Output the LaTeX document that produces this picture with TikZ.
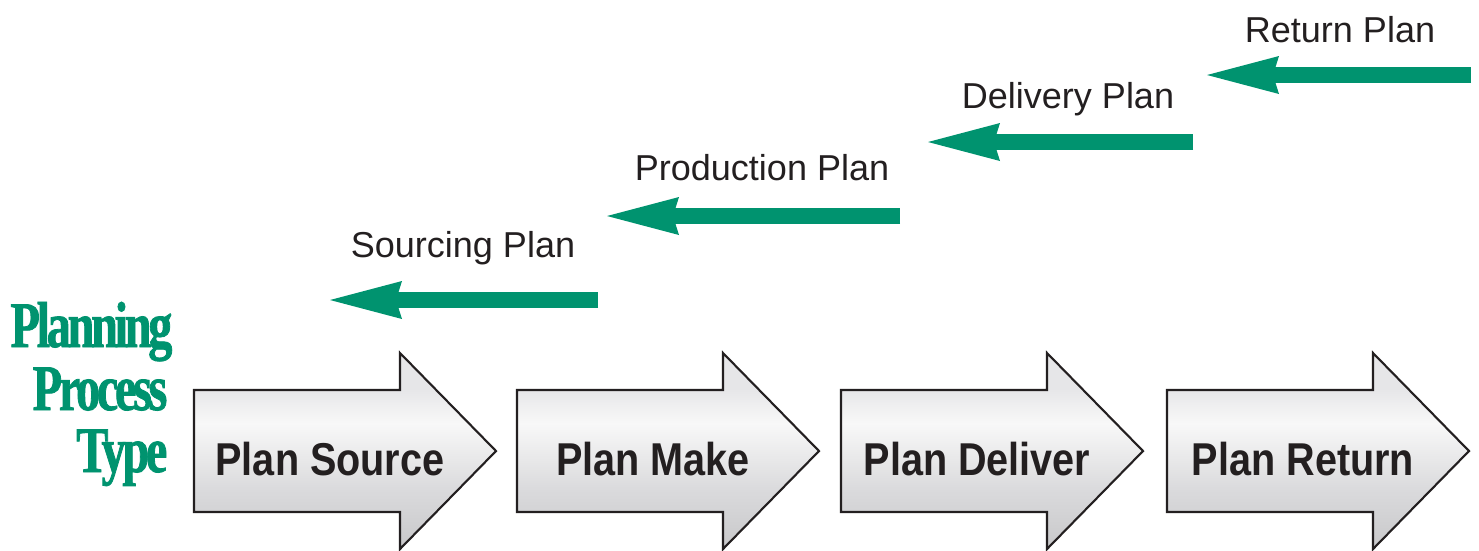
\documentclass[tikz,border=0pt]{standalone}
\usepackage{fontspec}
\setmainfont{Liberation Sans}
\newfontfamily\procfont[FakeStretch=0.86]{Liberation Sans}
\newfontfamily\typefont[FakeStretch=0.74,FakeBold=1.2,LetterSpace=-5]{Liberation Serif}
\usepackage{xcolor}
\usepackage{tikz}
\usetikzlibrary{arrows.meta,positioning}
\definecolor{cPlan}{RGB}{0,147,111}
\definecolor{cInk}{RGB}{35,31,32}
\definecolor{cShD}{RGB}{200,200,202}
\definecolor{cShM}{RGB}{218,218,220}
\definecolor{cShL}{RGB}{248,248,248}
\definecolor{cShT}{RGB}{230,230,232}
\pgfdeclareverticalshading{procshade}{100bp}{color(0bp)=(cShD); color(25bp)=(cShD); color(40bp)=(cShM); color(57bp)=(cShL); color(66bp)=(cShT); color(75bp)=(cShT); color(100bp)=(cShT)}
\tikzset{
  procarrow/.style={draw=cInk,line width=0.6pt,line join=miter,shading=procshade},
  proclabel/.style={inner sep=0pt,anchor=base,text=cInk,font=\procfont\bfseries\fontsize{13.1}{15}\selectfont},
  planlabel/.style={inner sep=0pt,anchor=base,text=cInk,font=\fontsize{10.25}{12}\selectfont},
  planarrow/.style={draw=cPlan,line width=1.6mm,
    -{Stealth[length=7.2mm,width=3.8mm,inset=0.6mm,line width=0pt]}},
  typelabel/.style={inner sep=0pt,anchor=base east,text=cPlan,font=\typefont\bfseries\fontsize{18.5}{18}\selectfont}
}
\begin{document}
\begin{tikzpicture}
  \useasboundingbox (0,0) rectangle (14.79,5.50);
  % process type
  \node[typelabel] (typA) at (1.73,2.03) {Planning};
  \node[typelabel] (typB) at (1.68,1.40) {Process};
  \node[typelabel] (typC) at (1.68,0.78) {Type};
  % the four process arrows
  \foreach \x/\t [count=\i] in {1.94/Plan Source,5.17/Plan Make,8.41/Plan Deliver,11.67/Plan Return}{
    \path[procarrow] (\x,0.38) -- (\x,1.60) -- (\x+2.06,1.60) -- (\x+2.06,1.97)
      -- (\x+3.02,0.99) -- (\x+2.06,0.01) -- (\x+2.06,0.38) -- cycle;
    \node[proclabel] (proc\i) at (\x+1.36,0.75) {\t};
  }
  % plans, right to left
  \coordinate (srcA) at (5.98,2.50);  \coordinate (srcB) at (3.30,2.50);
  \coordinate (prdA) at (9.00,3.34);  \coordinate (prdB) at (6.07,3.34);
  \coordinate (dlvA) at (11.93,4.08); \coordinate (dlvB) at (9.28,4.08);
  \coordinate (rtnA) at (14.71,4.75); \coordinate (rtnB) at (12.07,4.75);
  \draw[planarrow] (srcA) -- (srcB);
  \draw[planarrow] (prdA) -- (prdB);
  \draw[planarrow] (dlvA) -- (dlvB);
  \draw[planarrow] (rtnA) -- (rtnB);
  \node[planlabel] (srcL) at (4.63,2.93) {Sourcing Plan};
  \node[planlabel] (prdL) at (7.62,3.70) {Production Plan};
  \node[planlabel] (dlvL) at (10.68,4.42) {Delivery Plan};
  \node[planlabel] (rtnL) at (13.40,5.08) {Return Plan};
\end{tikzpicture}
\end{document}
